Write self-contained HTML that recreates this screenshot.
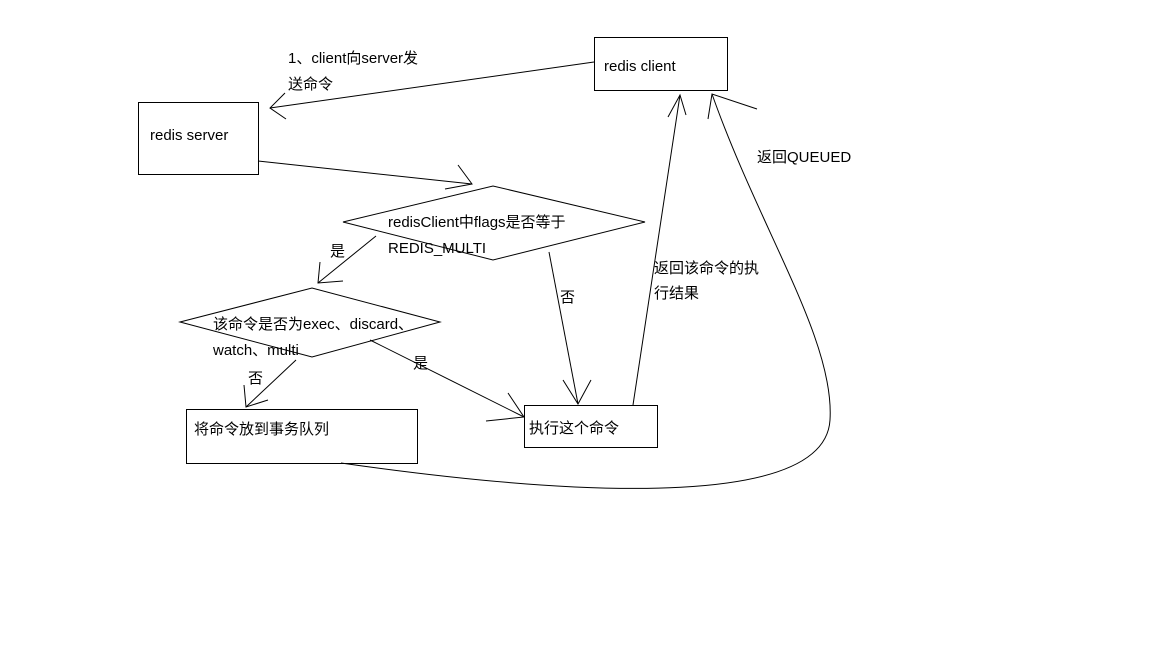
<!DOCTYPE html>
<html><head><meta charset="utf-8"><style>
html,body{margin:0;padding:0;background:#fff;}
svg{display:block;}
text{font-family:"Liberation Sans","Noto Sans CJK SC",sans-serif;font-size:15px;fill:#000;}
</style></head><body>
<svg width="1152" height="648" viewBox="0 0 1152 648" xmlns="http://www.w3.org/2000/svg">
<g fill="none" stroke="#000" stroke-width="1">
<rect x="594.5" y="37.5" width="133" height="53"/>
<rect x="138.5" y="102.5" width="120" height="72"/>
<polygon points="343,222 493,186 645,222 493,260"/>
<polygon points="180,322 312,288 440,322 312,357"/>
<rect x="186.5" y="409.5" width="231" height="54"/>
<rect x="524.5" y="405.5" width="133" height="42"/>
<!-- client -> server -->
<line x1="594" y1="62" x2="270" y2="108"/>
<polyline points="285,93 270,108 286,119"/>
<!-- server -> diamond1 -->
<line x1="258" y1="161" x2="472" y2="184"/>
<polyline points="458,165 472,184 445,189"/>
<!-- diamond1 -> diamond2 -->
<line x1="376" y1="236" x2="318" y2="283"/>
<polyline points="320,262 318,283 343,281"/>
<!-- diamond1 -> exec -->
<line x1="549" y1="252" x2="578" y2="404"/>
<polyline points="563,380 578,404 591,380"/>
<!-- diamond2 -> queue -->
<line x1="296" y1="360" x2="246" y2="407"/>
<polyline points="244,385 246,407 268,400"/>
<!-- diamond2 -> exec -->
<line x1="370" y1="340" x2="524" y2="417"/>
<polyline points="508,393 524,417 486,421"/>
<!-- exec -> client -->
<line x1="633" y1="405" x2="680" y2="95"/>
<polyline points="668,117 680,95 686,115"/>
<!-- queue -> client curve -->
<path d="M341,463 C600,500 825,505 830,420 C835,340 760,230 712,94"/>
<polyline points="708,119 712,94 757,109"/>
</g>
<text x="288" y="63">1、client向server发</text>
<text x="288" y="89">送命令</text>
<text x="604" y="71">redis client</text>
<text x="150" y="140">redis server</text>
<text x="388" y="227">redisClient中flags是否等于</text>
<text x="388" y="253">REDIS_MULTI</text>
<text x="330" y="256">是</text>
<text x="560" y="302">否</text>
<text x="213" y="329">该命令是否为exec、discard、</text>
<text x="213" y="355">watch、multi</text>
<text x="248" y="383">否</text>
<text x="413" y="368">是</text>
<text x="194" y="434">将命令放到事务队列</text>
<text x="529" y="433">执行这个命令</text>
<text x="654" y="273">返回该命令的执</text>
<text x="654" y="298">行结果</text>
<text x="757" y="162">返回QUEUED</text>
</svg>
</body></html>
